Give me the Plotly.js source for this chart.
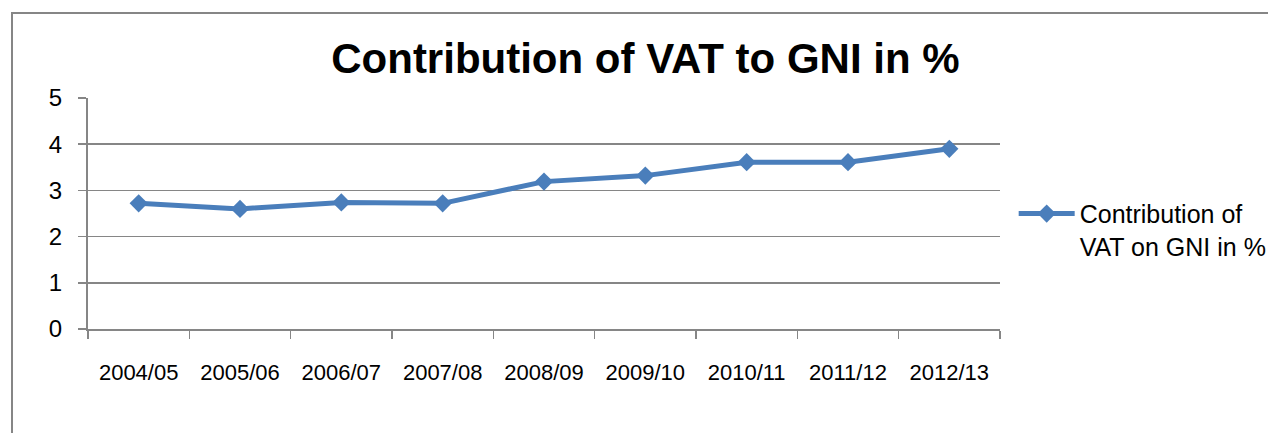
<!DOCTYPE html>
<html>
<head>
<meta charset="utf-8">
<script src="https://cdn.plot.ly/plotly-3.0.1.min.js"></script>
<style>
  html, body { margin: 0; padding: 0; background: #fff; }
  #wrap { position: relative; width: 1268px; height: 433px; overflow: hidden; }
  #chart { position: absolute; left: 0; top: 0; width: 1268px; height: 433px; }
  #frame { position: absolute; left: 11px; top: 12px; width: 1300px; height: 500px;
           border-left: 2px solid #868686; border-top: 2px solid #868686; pointer-events: none; }
</style>
</head>
<body>
<div id="wrap">
  <div id="chart"></div>
  <div id="frame"></div>
</div>
<script>
const categories = ["2004/05", "2005/06", "2006/07", "2007/08", "2008/09", "2009/10", "2010/11", "2011/12", "2012/13"];
const vatShare = [2.72, 2.60, 2.74, 2.72, 3.19, 3.32, 3.61, 3.61, 3.90];
const seriesName = "Contribution of<br>VAT on GNI in %";
const chartTitle = "Contribution of VAT to GNI in %";
const yTicks = [0, 1, 2, 3, 4, 5];

const FONT = "'Liberation Sans', Arial, sans-serif";
const GRID = "#868686";
const BLUE = "#4A7EBB";

const trace = {
  x: categories,
  y: vatShare,
  name: seriesName,
  type: "scatter",
  mode: "lines+markers",
  line: { color: BLUE, width: 5 },
  marker: { symbol: "diamond", size: 14, color: BLUE },
  showlegend: true
};

const layout = {
  width: 1268,
  height: 433,
  margin: { l: 88, r: 268, t: 98, b: 104, pad: 0, autoexpand: false },
  paper_bgcolor: "#ffffff",
  plot_bgcolor: "#ffffff",
  font: { family: FONT, size: 22, color: "#000000" },
  title: {
    text: "<b>" + chartTitle + "</b>",
    font: { family: FONT, size: 42, color: "#000000" },
    x: 0.509, xref: "container", xanchor: "center",
    y: 0.832, yref: "container", yanchor: "bottom"
  },
  xaxis: {
    type: "category",
    range: [-0.5, 8.5],
    tickson: "boundaries",
    ticks: "outside",
    ticklen: 8,
    tickwidth: 1.5,
    tickcolor: GRID,
    tickangle: 0,
    automargin: false,
    showline: true,
    linecolor: GRID,
    linewidth: 2,
    showgrid: false,
    zeroline: false,
    ticklabelstandoff: 23,
    tickfont: { family: FONT, size: 22, color: "#000000" },
    fixedrange: true
  },
  yaxis: {
    range: [0, 5],
    tickvals: yTicks,
    ticks: "outside",
    ticklen: 8,
    tickwidth: 1.5,
    tickcolor: GRID,
    automargin: false,
    showline: true,
    linecolor: GRID,
    linewidth: 2,
    showgrid: true,
    gridcolor: GRID,
    gridwidth: 1.5,
    zeroline: false,
    ticklabelstandoff: 11,
    tickfont: { family: FONT, size: 24, color: "#000000" },
    fixedrange: true
  },
  showlegend: true,
  legend: {
    x: 1.015, xanchor: "left",
    y: 0.598, yanchor: "top",
    valign: "top",
    itemwidth: 56,
    bgcolor: "rgba(0,0,0,0)",
    font: { family: FONT, size: 25, color: "#000000" },
    tracegroupgap: 0
  }
};

Plotly.newPlot("chart", [trace], layout, { staticPlot: true, displayModeBar: false });
</script>
</body>
</html>
